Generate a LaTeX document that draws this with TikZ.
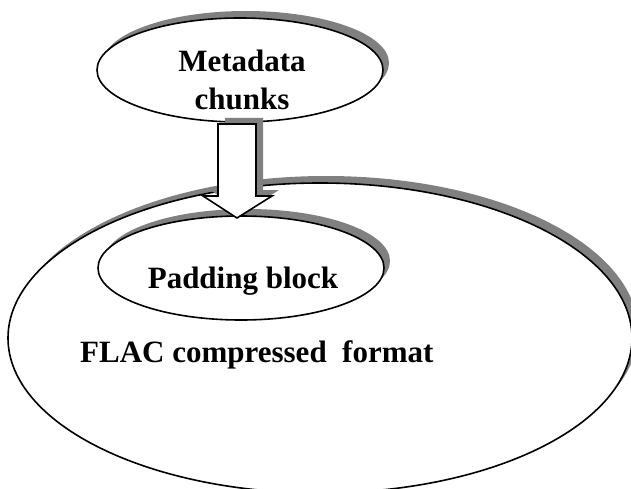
\documentclass[tikz,border=0pt]{standalone}
\usepackage{fontspec}
\setmainfont{Liberation Serif}
\usetikzlibrary{shapes.geometric,shadows}
\definecolor{shadowgray}{RGB}{128,128,128}
\begin{document}
\begin{tikzpicture}[x=1pt,y=1pt,
  oval/.style={ellipse,draw=black,fill=white,line width=1.6pt,inner sep=0pt,
    drop shadow={shadow xshift=6pt,shadow yshift=7pt,fill=shadowgray,opacity=1}},
  txt/.style={font=\fontsize{31}{38}\selectfont\bfseries,inner sep=0pt},
  arrowbox/.style={draw=black,fill=white,line width=1.6pt,line join=miter,
    drop shadow={shadow xshift=7pt,shadow yshift=6pt,fill=shadowgray,opacity=1}}]
\useasboundingbox (0,0) rectangle (631,488);
\clip (0,0) rectangle (631,488);
\node[oval,minimum width=624pt,minimum height=310pt] (flac) at (320,150) {};
\node[oval,minimum width=286pt,minimum height=104pt] (pad) at (241,220) {};
\node[oval,minimum width=286pt,minimum height=104pt] (meta) at (240,418) {};
\coordinate (tip) at (237,270);
\draw[arrowbox] (218,364) -- (218,292) -- (203,292) -- (tip) -- (272,292) -- (256,292) -- (256,364) -- cycle;
\node[txt,anchor=base] (metat) at (242,416) {Metadata};
\node[txt,anchor=base] (chunkt) at (242,378) {chunks};
\node[txt,anchor=base] (padt) at (243,200) {Padding block};
\node[txt,anchor=base west] (flact) at (80,126) {FLAC compressed\ \ format};
\end{tikzpicture}
\end{document}
